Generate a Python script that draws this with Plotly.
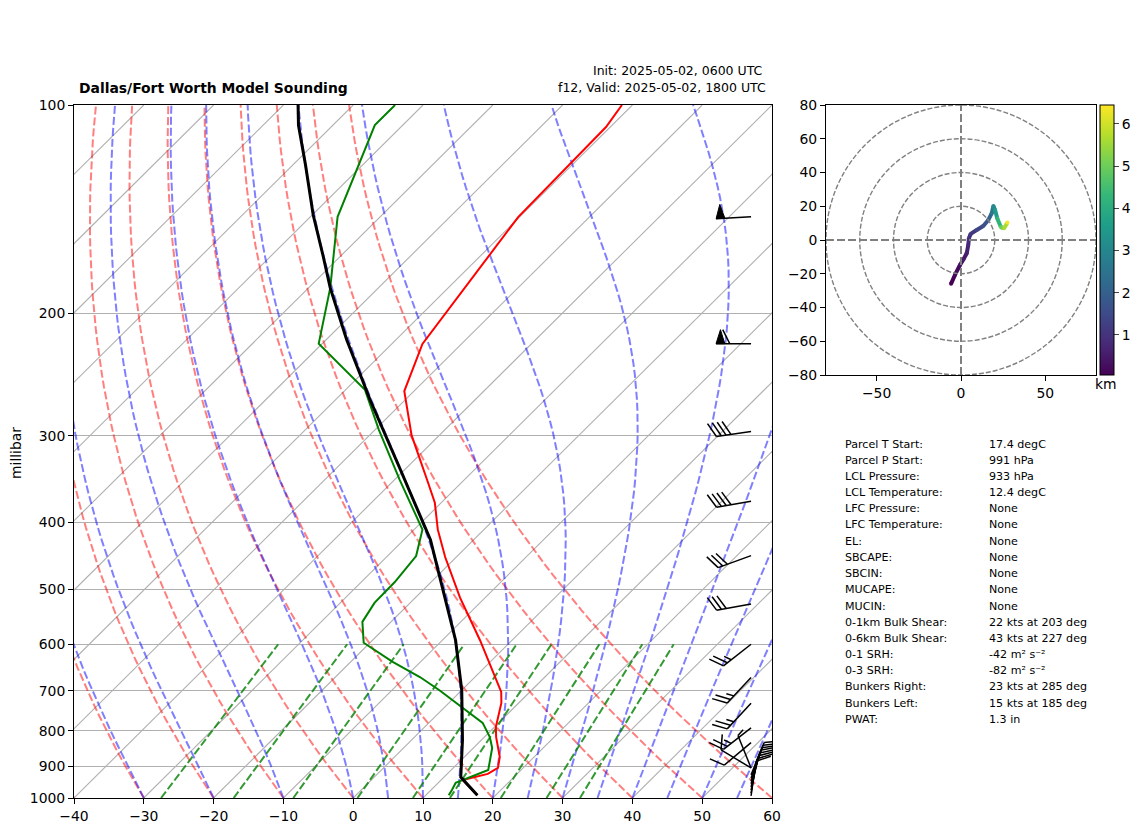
import numpy as np
import plotly.graph_objects as go
from plotly.colors import sample_colorscale

# sounding
temp_p = [100, 107.6, 145.1, 221.2, 258.7, 299.5, 350, 375, 410, 449, 514, 592, 703, 729, 790, 817, 873, 905, 923, 942, 991]
temp_t = [-61.5, -60.6, -60.2, -55.6, -51.4, -44.0, -34.9, -30.9, -26.6, -21.6, -13.6, -4.6, 5.9, 7.5, 10.2, 11.7, 15.1, 16.4, 15.8, 13.1, 17.4]
dewp_p = [100, 106.9, 145, 183.6, 221, 257.7, 294, 347.7, 410, 447.6, 488, 523, 557, 597, 636, 669, 699, 741, 779, 817, 847, 911, 942, 951, 974, 991]
dewp_t = [-94, -94, -86.1, -76.9, -70.5, -57.2, -49.5, -39.2, -28.8, -25.9, -25.2, -25.1, -24.1, -20.9, -14, -7.9, -3.2, 2.6, 7.7, 10.8, 12.7, 15.3, 13.1, 12.5, 13, 13.3]
parcel_p = [100, 107, 122, 144, 164.6, 183.6, 218, 266.5, 336, 424, 553, 592, 699, 825, 933, 991]
parcel_t = [-107.9, -104.9, -98.2, -89.9, -82.7, -76.9, -67.1, -55, -40.6, -26.2, -11.8, -8.1, 0, 7.3, 12.4, 17.4]

# wind barbs
barb_p = [145, 221, 296, 373, 447, 525, 600, 670, 730, 792, 832, 905, 905, 926, 936, 945, 954, 964, 974, 984, 993]
barb_speed = [50, 60, 40, 40, 30, 30, 25, 25, 25, 25, 10, 10, 5, 10, 10, 10, 10, 10, 10, 10, 10]
barb_dir = [267, 270, 262, 260, 250, 260, 232, 223, 223, 232, 230, 301, 338, 22, 20, 18, 16, 14, 12, 10, 8]

# hodograph
hodo_u = [-5.9, -3.6, -0.6, 1.4, 3.4, 4.3, 4.7, 5.7, 9.3, 13.2, 16.2, 18.2, 19.2, 20.2, 21.5, 23.7, 25.5, 27.5]
hodo_v = [-26, -20.7, -14.8, -11.5, -7.9, -3, 1, 3.6, 5.9, 8.3, 11.9, 15.8, 20.2, 17.8, 12.8, 7.5, 6.9, 10.3]
hodo_km = [0.05, 0.2, 0.35, 0.5, 0.65, 0.8, 0.95, 1.1, 1.4, 1.7, 2.1, 2.6, 3.1, 3.5, 4.2, 5.0, 5.6, 6.4]

# background lines
isotherms = list(range(-150, 70, 10))
dry_t0 = list(range(-40, 70, 10))
moist_t0 = [-30, -20, -10, 0, 5, 10, 15, 20, 25, 30, 35, 40, 45, 50, 55]
mix_w = [0.0004, 0.001, 0.002, 0.004, 0.007, 0.01, 0.016, 0.024, 0.032]

# text block
labels = ['Parcel T Start:', 'Parcel P Start:', 'LCL Pressure:', 'LCL Temperature:', 'LFC Pressure:', 'LFC Temperature:',
	'EL:', 'SBCAPE:', 'SBCIN:', 'MUCAPE:', 'MUCIN:', '0-1km Bulk Shear:', '0-6km Bulk Shear:', '0-1 SRH:', '0-3 SRH:',
	'Bunkers Right:', 'Bunkers Left:', 'PWAT:']
values = ['17.4 degC', '991 hPa', '933 hPa', '12.4 degC', 'None', 'None', 'None', 'None', 'None', 'None', 'None',
	'22 kts at 203 deg', '43 kts at 227 deg', '-42 m² s⁻²', '-82 m² s⁻²', '23 kts at 285 deg', '15 kts at 185 deg', '1.3 in']
rows = [444, 460, 476, 492, 508.5, 524.6, 541, 557, 573, 589, 606, 622, 638, 654, 670, 686, 703, 719]

skew = 100
W = 1142
H = 832
font = 'DejaVu Sans'
dash = '8px,3px'

# skew the temperature onto the x axis
def skewed(t, p):
	return np.asarray(t) + skew * np.log10(1000 / np.asarray(p))

fig = go.Figure()

levels = np.geomspace(1000, 100, 60)

# isotherms
for t in isotherms:
	fig.add_trace(go.Scatter(
		x = skewed([t, t], [1000, 100]),
		y = [1000, 100],
		mode = 'lines',
		line = dict(color = '#b0b0b0', width = 1.1)))

# dry adiabats
for t in dry_t0:
	fig.add_trace(go.Scatter(
		x = skewed((t + 273.15) * (levels / 1000) ** 0.2857 - 273.15, levels),
		y = levels,
		mode = 'lines',
		line = dict(color = 'rgba(255,0,0,0.5)', width = 2, dash = dash)))

# moist adiabats
for t in moist_t0:
	tk = t + 273.15
	temps = [tk]
	for i in range(1, len(levels)):
		for p in np.linspace(levels[i - 1], levels[i], 6)[:-1]:
			es = 6.112 * np.exp(17.67 * (tk - 273.15) / (tk - 29.65))
			rs = 0.622 * es / (p - es)
			lv = 2.501e6
			slope = (287 * tk + lv * rs) / (1005 + lv ** 2 * rs * 0.622 / (287 * tk ** 2)) / p
			tk = tk + slope * (levels[i] - levels[i - 1]) / 5
		temps.append(tk)
	fig.add_trace(go.Scatter(
		x = skewed(np.array(temps) - 273.15, levels),
		y = levels,
		mode = 'lines',
		line = dict(color = 'rgba(0,0,255,0.5)', width = 2, dash = dash)))

# mixing ratio lines
for w in mix_w:
	mix_p = np.array([1000, 600])
	e = np.log(mix_p * w / (0.622 + w) / 6.112)
	fig.add_trace(go.Scatter(
		x = skewed(243.5 * e / (17.67 - e), mix_p),
		y = mix_p,
		mode = 'lines',
		line = dict(color = 'rgba(0,128,0,0.8)', width = 2, dash = dash)))

# temperature, dewpoint, parcel
fig.add_trace(go.Scatter(x = skewed(temp_t, temp_p), y = temp_p, mode = 'lines', line = dict(color = 'red', width = 2)))
fig.add_trace(go.Scatter(x = skewed(dewp_t, dewp_p), y = dewp_p, mode = 'lines', line = dict(color = 'green', width = 2)))
fig.add_trace(go.Scatter(x = skewed(parcel_t, parcel_p), y = parcel_p, mode = 'lines', line = dict(color = 'black', width = 3)))

# wind barbs, sizes in pixels of the reference axes
barb_x = []
barb_y = []
flag_x = []
flag_y = []
x_px = 698 / 100
y_px = 693
def to_data(p0, dx, dy):
	return 57 + dx / x_px, p0 * 10 ** (-dy / y_px)

for p0, speed, direction in zip(barb_p, barb_speed, barb_dir):
	ex = np.sin(np.radians(direction))
	ey = np.cos(np.radians(direction))
	nx, ny = ey, -ex
	sx, sy = to_data(p0, 35 * ex, 35 * ey)
	ax, ay = to_data(p0, 0, 0)
	barb_x += [ax, sx, None]
	barb_y += [ay, sy, None]
	s = 35
	left = speed
	while left >= 50:
		a = to_data(p0, s * ex, s * ey)
		b = to_data(p0, (s - 4.4) * ex + 14 * nx, (s - 4.4) * ey + 14 * ny)
		c = to_data(p0, (s - 8.75) * ex, (s - 8.75) * ey)
		flag_x += [a[0], b[0], c[0], a[0], None]
		flag_y += [a[1], b[1], c[1], a[1], None]
		s -= 8.75 + 4.9
		left -= 50
	while left >= 10:
		a = to_data(p0, s * ex, s * ey)
		b = to_data(p0, s * ex + 14 * nx + 7 * ex, s * ey + 14 * ny + 7 * ey)
		barb_x += [a[0], b[0], None]
		barb_y += [a[1], b[1], None]
		s -= 4.9
		left -= 10
	if left >= 5:
		a = to_data(p0, s * ex, s * ey)
		b = to_data(p0, s * ex + 7 * nx + 3.5 * ex, s * ey + 7 * ny + 3.5 * ey)
		barb_x += [a[0], b[0], None]
		barb_y += [a[1], b[1], None]

fig.add_trace(go.Scatter(x = barb_x, y = barb_y, mode = 'lines', line = dict(color = 'black', width = 1.5)))
fig.add_trace(go.Scatter(x = flag_x, y = flag_y, mode = 'lines', fill = 'toself', fillcolor = 'black', line = dict(color = 'black', width = 1)))

# hodograph colored by height
km_min = 0.05
km_max = 6.45
colors = sample_colorscale('Viridis', [(k - km_min) / (km_max - km_min) for k in hodo_km])
for i in range(len(hodo_km) - 1):
	fig.add_trace(go.Scatter(
		x = hodo_u[i:i + 2],
		y = hodo_v[i:i + 2],
		xaxis = 'x2',
		yaxis = 'y2',
		mode = 'lines',
		line = dict(color = colors[i], width = 4)))
fig.add_trace(go.Scatter(
	x = hodo_u,
	y = hodo_v,
	xaxis = 'x2',
	yaxis = 'y2',
	mode = 'markers',
	marker = dict(
		size = 4,
		color = hodo_km,
		colorscale = 'Viridis',
		cmin = km_min,
		cmax = km_max,
		colorbar = dict(
			x = 1100 / W,
			xanchor = 'left',
			xpad = 0,
			ypad = 0,
			y = 1 - 375 / H,
			yanchor = 'bottom',
			len = 270 / H,
			thickness = 14,
			outlinecolor = 'black',
			outlinewidth = 1,
			tickvals = [1, 2, 3, 4, 5, 6],
			ticks = 'outside',
			ticklen = 5,
			tickfont = dict(family = font, size = 13.9, color = 'black')))))

# hodograph rings and cross hairs
shapes = []
for r in [20, 40, 60, 80]:
	shapes.append(dict(type = 'circle', xref = 'x2', yref = 'y2', x0 = -r, x1 = r, y0 = -r, y1 = r,
		line = dict(color = 'gray', width = 1.4, dash = '5px,2px')))
shapes.append(dict(type = 'line', xref = 'x2', yref = 'y2', x0 = -80, x1 = 80, y0 = 0, y1 = 0,
	line = dict(color = 'gray', width = 2, dash = dash)))
shapes.append(dict(type = 'line', xref = 'x2', yref = 'y2', x0 = 0, x1 = 0, y0 = -80, y1 = 80,
	line = dict(color = 'gray', width = 2, dash = dash)))

# texts
notes = [
	dict(text = '<b>Dallas/Fort Worth Model Sounding</b>', x = 77 / W, y = 1 - 88 / H, xanchor = 'left', font = dict(size = 13.9)),
	dict(text = 'Init: 2025-05-02, 0600 UTC', x = 765 / W, y = 1 - 70 / H, xanchor = 'right', font = dict(size = 12.5)),
	dict(text = 'f12, Valid: 2025-05-02, 1800 UTC', x = 768 / W, y = 1 - 88 / H, xanchor = 'right', font = dict(size = 12.5)),
	dict(text = 'millibar', x = 16 / W, y = 1 - 453 / H, xanchor = 'center', textangle = -90, font = dict(size = 13.9)),
	dict(text = 'km', x = 1106 / W, y = 1 - 384 / H, xanchor = 'center', font = dict(size = 13.9))]
for label, value, row in zip(labels, values, rows):
	notes.append(dict(text = label, x = 843 / W, y = 1 - row / H, xanchor = 'left', font = dict(size = 11.1)))
	notes.append(dict(text = value, x = 987 / W, y = 1 - row / H, xanchor = 'left', font = dict(size = 11.1)))
for note in notes:
	note.update(xref = 'paper', yref = 'paper', yanchor = 'middle', showarrow = False)
	note['font'].update(family = font, color = 'black')

axis_style = dict(
	automargin = False,
	showline = True,
	linecolor = 'black',
	linewidth = 1,
	mirror = True,
	ticks = 'outside',
	ticklen = 5,
	tickcolor = 'black',
	tickfont = dict(family = font, size = 13.9, color = 'black'),
	zeroline = False)

fig.update_layout(
	width = W,
	height = H,
	margin = dict(l = 0, r = 0, t = 0, b = 0, autoexpand = False),
	paper_bgcolor = 'white',
	plot_bgcolor = 'white',
	showlegend = False,
	shapes = shapes,
	annotations = notes,
	xaxis = dict(
		domain = [74 / W, 772 / W],
		range = [-40, 60],
		tickvals = list(range(-40, 70, 10)),
		showgrid = False,
		**axis_style),
	yaxis = dict(
		domain = [1 - 798 / H, 1 - 105 / H],
		type = 'log',
		range = [3, 2],
		tickvals = [100, 200, 300, 400, 500, 600, 700, 800, 900, 1000],
		ticktext = ['100', '200', '300', '400', '500', '600', '700', '800', '900', '1000'],
		showgrid = True,
		gridcolor = '#b0b0b0',
		gridwidth = 1,
		**axis_style),
	xaxis2 = dict(
		domain = [826 / W, 1096 / W],
		range = [-80, 80],
		tickvals = [-50, 0, 50],
		ticktext = ['−50', '0', '50'],
		anchor = 'y2',
		showgrid = False,
		**axis_style),
	yaxis2 = dict(
		domain = [1 - 375 / H, 1 - 105 / H],
		range = [-80, 80],
		tickvals = [-80, -60, -40, -20, 0, 20, 40, 60, 80],
		ticktext = ['−80', '−60', '−40', '−20', '0', '20', '40', '60', '80'],
		anchor = 'x2',
		showgrid = False,
		**axis_style))

# save
fig.write_html(
	'out.html',
	config = dict(displayModeBar = False),
	post_script = "document.body.style.margin = '0';")
